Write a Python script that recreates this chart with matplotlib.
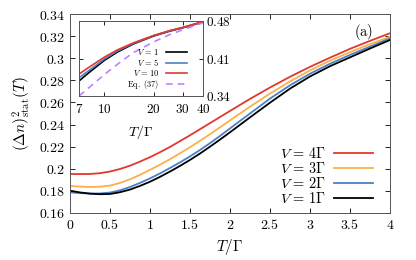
import matplotlib
matplotlib.use("Agg")
import matplotlib.pyplot as plt
from matplotlib.ticker import FixedLocator, FuncFormatter, NullLocator

plt.rcParams['mathtext.fontset'] = 'cm'
plt.rcParams['font.family'] = ['DejaVu Serif']

# main panel data
T = [0, 0.125, 0.25, 0.375, 0.5, 0.625, 0.75, 0.875, 1.0, 1.125, 1.25, 1.375, 1.5, 1.625,
     1.75, 1.875, 2.0, 2.25, 2.5, 2.75, 3.0, 3.25, 3.5, 3.75, 4.0]
v4 = [0.1953, 0.1952, 0.1953, 0.1960, 0.1975, 0.1998, 0.2028, 0.2065, 0.2105, 0.2150, 0.2198,
      0.2250, 0.2303, 0.2358, 0.2413, 0.2468, 0.2523, 0.2632, 0.2735, 0.2832, 0.2922, 0.3005,
      0.3085, 0.3157, 0.3226]
v3 = [0.1844, 0.1839, 0.1835, 0.1838, 0.1848, 0.1872, 0.1905, 0.1945, 0.1990, 0.2037, 0.2087,
      0.2140, 0.2195, 0.2253, 0.2313, 0.2375, 0.2438, 0.2562, 0.2680, 0.2790, 0.2890, 0.2978,
      0.3055, 0.3127, 0.3195]
v2 = [0.1787, 0.1780, 0.1776, 0.1777, 0.1785, 0.1805, 0.1835, 0.1872, 0.1913, 0.1958, 0.2007,
      0.2058, 0.2112, 0.2170, 0.2232, 0.2297, 0.2365, 0.2500, 0.2635, 0.2755, 0.2860, 0.2950,
      0.3030, 0.3105, 0.3180]
v1 = [0.1802, 0.1786, 0.1775, 0.1770, 0.1772, 0.1788, 0.1812, 0.1845, 0.1883, 0.1927, 0.1975,
      0.2026, 0.2080, 0.2138, 0.2200, 0.2264, 0.2330, 0.2465, 0.2598, 0.2725, 0.2835, 0.2928,
      0.3008, 0.3088, 0.3165]
main_labels = [r'$V\,=\,4\Gamma$', r'$V\,=\,3\Gamma$', r'$V\,=\,2\Gamma$', r'$V\,=\,1\Gamma$']
main_colors = ['#e2382d', '#fdb04a', '#4a80c4', '#000000']

# inset data
Ti = [7, 8, 10, 12, 15, 20, 25, 30, 40]
i1 = [0.368, 0.383, 0.4065, 0.422, 0.437, 0.452, 0.461, 0.4672, 0.4782]
i5 = [0.374, 0.387, 0.409, 0.424, 0.438, 0.4525, 0.4615, 0.4675, 0.4785]
i10 = [0.381, 0.393, 0.4125, 0.426, 0.439, 0.453, 0.462, 0.468, 0.479]
ieq = [0.340, 0.355, 0.380, 0.399, 0.421, 0.441, 0.4545, 0.4635, 0.4765]
inset_labels = [r'$V\,=\,1$', r'$V\,=\,5$', r'$V\,=\,10$', r'$\mathrm{Eq.\ (37)}$']

xticks = [0, 0.5, 1, 1.5, 2, 2.5, 3, 3.5, 4]
yticks = [0.16, 0.18, 0.2, 0.22, 0.24, 0.26, 0.28, 0.3, 0.32, 0.34]
ixticks = [7, 10, 20, 30, 40]
iyticks = [0.34, 0.41, 0.48]

fig = plt.figure(figsize=(4.16, 2.6), dpi=100)
ax = fig.add_axes([70/416, 1-213/260, 320/416, 199/260])
for y, c, l in zip([v4, v3, v2, v1], main_colors, main_labels):
    ax.plot(T, y, color=c, lw=1.3, label=l)
ax.set_xlim(0, 4)
ax.set_ylim(0.16, 0.34)
fmt = FuncFormatter(lambda v, p: r'$%g$' % round(v, 4))
ax.xaxis.set_major_locator(FixedLocator(xticks))
ax.yaxis.set_major_locator(FixedLocator(yticks))
ax.xaxis.set_major_formatter(fmt)
ax.yaxis.set_major_formatter(fmt)
ax.tick_params(direction='in', top=True, right=True, labelsize=10, length=3.5, width=0.6)
for s in ax.spines.values():
    s.set_linewidth(0.7)
    s.set_color('#555555')
ax.set_xlabel(r'$T/\Gamma$', fontsize=11, labelpad=4)
ax.set_ylabel(r'$(\Delta n)^2_{\rm stat}(T)$', fontsize=11, labelpad=4)
ax.text(0.916, 0.91, r'$\mathrm{(a)}$', transform=ax.transAxes, fontsize=10.5,
        ha='center', va='center')
ax.legend(loc='lower right', bbox_to_anchor=(0.947, 0.035), frameon=False,
          markerfirst=False, fontsize=10.3, handlelength=2.75, labelspacing=0.0,
          handletextpad=0.55, borderpad=0.0, borderaxespad=0.0)

# inset
ai = fig.add_axes([79/416, 1-96/260, 124/416, 75/260])
ai.plot(Ti, i1, color='#000000', lw=1.2, label=inset_labels[0])
ai.plot(Ti, i5, color='#4a80c4', lw=1.2, label=inset_labels[1])
ai.plot(Ti, i10, color='#e2382d', lw=1.2, label=inset_labels[2])
ai.plot(Ti, ieq, color='#c080ff', lw=1.2, ls=(0, (4, 3)), label=inset_labels[3])
ai.set_xscale('log')
ai.set_xlim(7, 40)
ai.set_ylim(0.34, 0.48)
ai.xaxis.set_major_locator(FixedLocator(ixticks))
ai.xaxis.set_minor_locator(NullLocator())
ai.yaxis.set_major_locator(FixedLocator(iyticks))
ai.yaxis.set_minor_locator(NullLocator())
ai.xaxis.set_major_formatter(fmt)
ai.yaxis.set_major_formatter(fmt)
ai.yaxis.tick_right()
ai.tick_params(direction='in', top=True, left=True, right=True, labelsize=9.5,
               length=3, width=0.6)
ai.tick_params(axis='x', pad=5)
ai.tick_params(axis='y', pad=2)
for s in ai.spines.values():
    s.set_linewidth(0.7)
    s.set_color('#555555')
ai.set_xlabel(r'$T/\Gamma$', fontsize=10, labelpad=5)
ai.legend(loc='lower right', bbox_to_anchor=(0.871, 0.07), frameon=False,
          markerfirst=False, fontsize=6, handlelength=2.5, labelspacing=0.0,
          handletextpad=0.8, borderpad=0.0, borderaxespad=0.0)

fig.savefig('out.png', dpi=100)
